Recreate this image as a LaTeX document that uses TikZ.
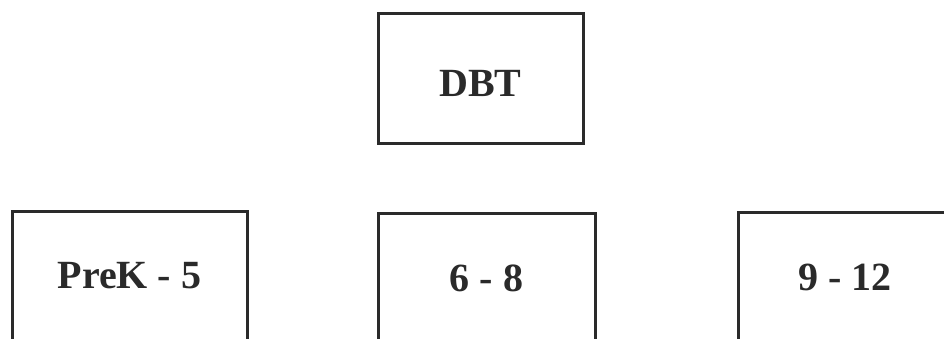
\documentclass[tikz,border=0pt]{standalone}
\usepackage{fontspec}
\setmainfont{Liberation Serif}
\definecolor{inkc}{HTML}{2A2A2A}
\begin{document}
\begin{tikzpicture}[x=1pt,y=-1pt,
  box/.style={draw=inkc, line width=3pt, inner sep=0pt, text=inkc,
    font=\fontsize{40}{48}\selectfont\bfseries}]
\useasboundingbox (0,0) rectangle (944,339);
\clip (0,0) rectangle (944,339);
\node[box, minimum width=205pt, minimum height=130pt, text height=36pt, text depth=0pt] (dbt) at (480.5,79) {DBT};
\node[box, minimum width=235pt, minimum height=130pt] (prek) at (129.5,276) {PreK - 5};
\node[box, minimum width=217pt, minimum height=130pt] (mid) at (486.5,278) {6 - 8};
\node[box, minimum width=214pt, minimum height=130pt] (high) at (845,277) {9 - 12};
\end{tikzpicture}
\end{document}
